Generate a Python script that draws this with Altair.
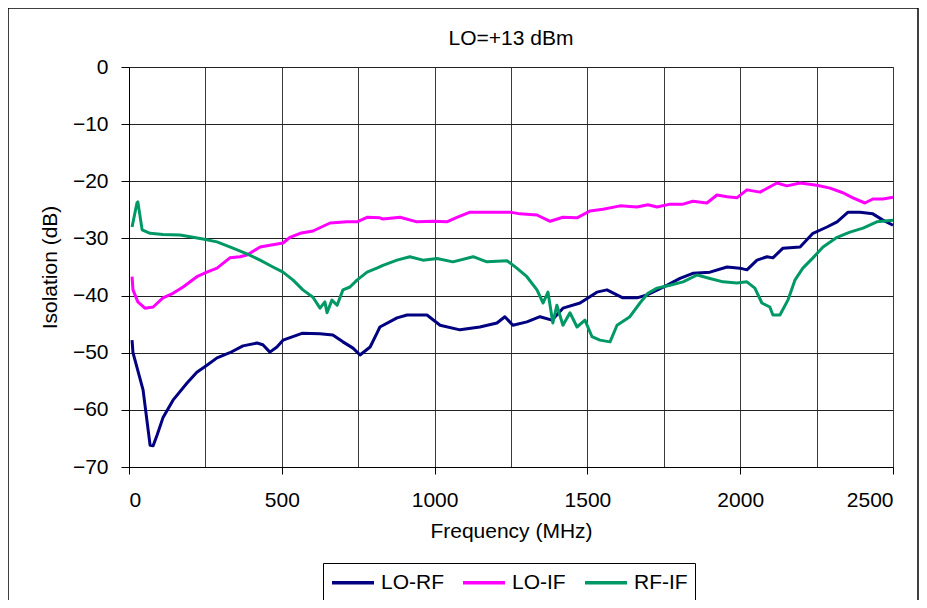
import altair as alt
import pandas as pd

series_names = ["LO-RF", "LO-IF", "RF-IF"]
series_colors = ["#000080", "#FF00FF", "#009966"]

lo_rf_freq = [10, 13, 46, 69, 79, 92, 111, 144, 190, 222, 255, 288, 330, 373, 419, 438, 461, 484, 504, 566, 625, 667, 700, 733, 756, 789, 811,
              821, 877, 910, 975, 1018, 1083, 1148, 1204, 1230, 1256, 1302, 1345, 1384, 1420, 1476, 1531, 1564, 1616, 1662, 1695,
              1760, 1803, 1845, 1901, 1957, 1999, 2022, 2055, 2088, 2107, 2140, 2196, 2238, 2284, 2317, 2353, 2392, 2434, 2467, 2500]
lo_rf_db = [-47.8, -50.0, -56.5, -66.2, -66.3, -64.4, -61.4, -58.3, -55.3, -53.4, -52.2, -50.9, -50.0, -48.8, -48.3, -48.6, -49.9, -49.0, -47.8, -46.6, -46.7, -46.9, -48.1, -49.2, -50.4, -49.0, -46.6,
            -45.5, -43.9, -43.4, -43.4, -45.2, -46.0, -45.5, -44.8, -43.7, -45.2, -44.6, -43.7, -44.3, -42.2, -41.3, -39.4, -39.0, -40.4, -40.4, -39.9,
            -38.2, -37.0, -36.1, -35.9, -35.0, -35.2, -35.5, -33.8, -33.2, -33.4, -31.7, -31.5, -29.1, -28.0, -27.1, -25.4, -25.4, -25.7, -26.8, -27.7]

lo_if_freq = [10, 13, 29, 52, 79, 111, 144, 177, 222, 255, 288, 330, 363, 386, 429, 461, 504, 527, 560, 602, 658, 713, 746, 779, 821,
              831, 887, 942, 995, 1040, 1073, 1116, 1171, 1247, 1279, 1335, 1378, 1420, 1466, 1508, 1551, 1607, 1662, 1698,
              1728, 1770, 1813, 1845, 1891, 1924, 1957, 1989, 2022, 2065, 2120, 2153, 2196, 2251, 2294, 2336, 2369, 2408, 2434, 2467, 2500]
lo_if_db = [-36.7, -39.0, -41.1, -42.2, -42.0, -40.4, -39.6, -38.5, -36.7, -35.9, -35.2, -33.4, -33.2, -32.9, -31.5, -31.2, -30.8, -29.8, -29.1, -28.7, -27.3, -27.1, -27.1, -26.3, -26.4,
            -26.6, -26.3, -27.1, -27.0, -27.1, -26.3, -25.4, -25.4, -25.4, -25.7, -25.9, -27.0, -26.3, -26.4, -25.2, -24.9, -24.3, -24.5, -24.1,
            -24.5, -24.0, -24.0, -23.5, -23.8, -22.4, -22.7, -22.9, -21.5, -21.9, -20.3, -20.8, -20.3, -20.7, -21.2, -22.0, -22.9, -23.8, -23.1, -23.1, -22.8]

rf_if_freq = [10, 26, 29, 43, 69, 111, 167, 200, 242, 288, 340, 386, 429, 471, 504, 537, 569, 602, 625, 641, 648, 664, 681, 700, 723, 746, 779, 811,
              831, 877, 919, 962, 1008, 1060, 1126, 1171, 1237, 1269, 1302, 1335, 1355, 1371, 1387, 1400, 1420, 1443, 1466, 1492, 1515, 1541, 1574, 1597, 1639, 1672, 1698,
              1728, 1770, 1813, 1859, 1901, 1944, 1989, 2022, 2048, 2071, 2097, 2107, 2130, 2156, 2179, 2205, 2238, 2271, 2317, 2359, 2402, 2447, 2500]
rf_if_db = [-28.0, -23.8, -23.6, -28.5, -29.1, -29.3, -29.4, -29.7, -30.1, -30.6, -31.7, -32.7, -33.8, -35.0, -35.9, -37.3, -39.0, -40.3, -42.2, -41.1, -43.0, -40.8, -41.7, -39.0, -38.5, -37.3, -35.9, -35.2,
            -34.7, -33.8, -33.2, -33.8, -33.5, -34.1, -33.2, -34.1, -33.9, -35.2, -36.7, -39.0, -41.3, -39.4, -44.8, -41.7, -45.2, -43.0, -45.5, -44.3, -47.2, -47.8, -48.1, -45.2, -43.7, -41.3, -39.6,
            -38.7, -38.2, -37.6, -36.4, -37.0, -37.6, -37.8, -37.6, -38.7, -41.3, -42.0, -43.4, -43.4, -40.8, -37.3, -35.2, -33.4, -31.5, -29.8, -28.9, -28.2, -27.1, -26.8]

x_grid_values = [0, 250, 500, 750, 1000, 1250, 1500, 1750, 2000, 2250, 2500]
y_tick_values = [0, -10, -20, -30, -40, -50, -60, -70]

rows = []
for name, fr, db in [("LO-RF", lo_rf_freq, lo_rf_db), ("LO-IF", lo_if_freq, lo_if_db), ("RF-IF", rf_if_freq, rf_if_db)]:
    for i, (f, d) in enumerate(zip(fr, db)):
        rows.append({"Frequency": f, "Isolation": d, "Series": name, "order": i})
df = pd.DataFrame(rows)

FONT = "Liberation Sans"

lines = alt.Chart(df).mark_line(strokeWidth=3, strokeJoin="round").encode(
    x=alt.X("Frequency:Q",
            scale=alt.Scale(domain=[0, 2500], nice=False, zero=False),
            axis=alt.Axis(values=x_grid_values, title="Frequency (MHz)",
                          labelExpr="datum.value % 500 === 0 ? datum.label : ''",
                          tickOpacity={"condition": {"test": "datum.value % 500 === 0", "value": 1}, "value": 0},
                          format="d", tickSize=7, labelPadding=15, titlePadding=10,
                          grid=True, gridColor="#3a3a3a", gridWidth=1,
                          domainColor="#000000", tickColor="#000000",
                          labelFontSize=21, titleFontSize=21, titleFontWeight="normal",
                          labelFont=FONT, titleFont=FONT, labelColor="#000000", titleColor="#000000")),
    y=alt.Y("Isolation:Q",
            scale=alt.Scale(domain=[-70, 0], nice=False, zero=False),
            axis=alt.Axis(values=y_tick_values, title="Isolation (dB)", format="d",
                          tickSize=8, labelPadding=13, titlePadding=12,
                          grid=True, gridColor="#222222", gridWidth=1,
                          domainColor="#000000", tickColor="#000000",
                          labelFontSize=21, titleFontSize=21, titleFontWeight="normal",
                          labelFont=FONT, titleFont=FONT, labelColor="#000000", titleColor="#000000")),
    color=alt.Color("Series:N",
                    scale=alt.Scale(domain=series_names, range=series_colors),
                    legend=alt.Legend(title=None, orient="none", direction="horizontal",
                                      legendX=194, legendY=496,
                                      symbolType="M-1,0H3", symbolSize=441, symbolStrokeWidth=3.5,
                                      labelFontSize=21, labelFont=FONT, labelColor="#000000",
                                      labelOffset=26, columnPadding=12,
                                      padding=7, strokeColor="#000000", fillColor="#ffffff")),
    detail="Series:N",
    order="order:Q",
)

frame_df = pd.DataFrame({"k": [0]})
frame_left = alt.Chart(frame_df).mark_rule(color="#000000", strokeWidth=1.5).encode(
    x=alt.value(-121), y=alt.value(-59), y2=alt.value(533))
frame_top = alt.Chart(frame_df).mark_rule(color="#000000", strokeWidth=1.5).encode(
    x=alt.value(-121), x2=alt.value(789), y=alt.value(-59))
frame_right = alt.Chart(frame_df).mark_rule(color="#000000", strokeWidth=1.5).encode(
    x=alt.value(789), y=alt.value(-59), y2=alt.value(533))

chart = alt.layer(lines, frame_left, frame_top, frame_right).properties(
    width=764, height=400,
    title=alt.Title("LO=+13 dBm", fontSize=21, font=FONT, fontWeight="normal", color="#000000",
                    offset=17, dy=59, frame="group"),
    autosize=alt.AutoSizeParams(type="none"),
    padding={"left": 121, "top": 59, "right": 26, "bottom": 133},
    background="#ffffff",
).configure_view(stroke="#808080", strokeWidth=1)

chart.save("out.html", embed_options={"renderer": "svg", "actions": False})
